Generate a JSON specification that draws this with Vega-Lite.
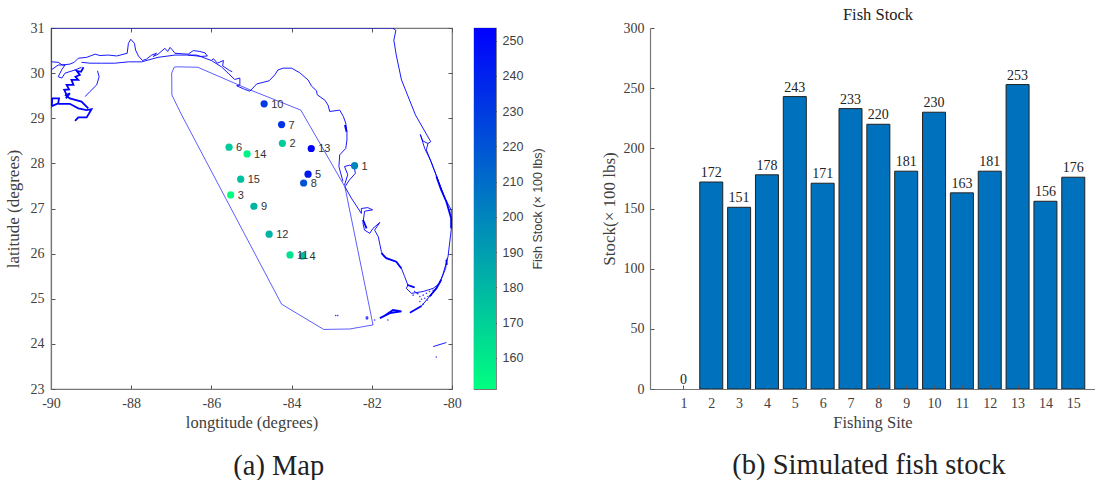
{
"$schema":"https://vega.github.io/schema/vega-lite/v6.json",
"background":"white",
"padding":{"left":3,"top":6,"right":0,"bottom":0},
"config":{"font":"Liberation Serif","axis":{"grid":false,"domainColor":"#777","domainWidth":1.2,"tickColor":"#555","tickWidth":1,"labelColor":"#404040","titleColor":"#404040","labelFont":"Liberation Serif","titleFont":"Liberation Serif","labelFontSize":14,"titleFontSize":16.5,"titleFontWeight":"normal"}},
"datasets":{
"sites":[
{"site":1,"lon":-82.43,"lat":27.95,"stock":0,"mapStock":200},
{"site":2,"lon":-84.23,"lat":28.445,"stock":172,"mapStock":172},
{"site":3,"lon":-85.52,"lat":27.30,"stock":151,"mapStock":151},
{"site":4,"lon":-83.73,"lat":25.95,"stock":178,"mapStock":178},
{"site":5,"lon":-83.59,"lat":27.76,"stock":243,"mapStock":243},
{"site":6,"lon":-85.56,"lat":28.36,"stock":171,"mapStock":171},
{"site":7,"lon":-84.25,"lat":28.86,"stock":233,"mapStock":233},
{"site":8,"lon":-83.70,"lat":27.565,"stock":220,"mapStock":220},
{"site":9,"lon":-84.94,"lat":27.05,"stock":181,"mapStock":181},
{"site":10,"lon":-84.685,"lat":29.32,"stock":230,"mapStock":230},
{"site":11,"lon":-84.04,"lat":25.97,"stock":163,"mapStock":163},
{"site":12,"lon":-84.56,"lat":26.43,"stock":181,"mapStock":181},
{"site":13,"lon":-83.51,"lat":28.33,"stock":253,"mapStock":253},
{"site":14,"lon":-85.11,"lat":28.21,"stock":156,"mapStock":156},
{"site":15,"lon":-85.27,"lat":27.65,"stock":176,"mapStock":176}
],
"zone":[
{"lon":-84.25,"lat":24.88},{"lon":-83.20,"lat":24.32},{"lon":-82.55,"lat":24.33},{"lon":-81.97,"lat":24.42},{"lon":-82.67,"lat":27.48},{"lon":-83.77,"lat":29.18},{"lon":-85.04,"lat":29.63},{"lon":-86.34,"lat":30.13},{"lon":-86.87,"lat":30.14},{"lon":-86.93,"lat":30.13},{"lon":-86.99,"lat":30.0},{"lon":-86.985,"lat":29.515},{"lon":-86.74,"lat":29.07},{"lon":-84.25,"lat":24.88}
],
"coast":[
{"s":"edge","lon":-90,"lat":29.22},{"s":"edge","lon":-90,"lat":31},{"s":"edge","lon":-81.45,"lat":31},{"s":"edge","lon":-81.47,"lat":30.99},
{"s":"a","lon":-89.98,"lat":30.25},{"s":"a","lon":-89.82,"lat":30.24},{"s":"a","lon":-89.72,"lat":30.18},{"s":"a","lon":-89.53,"lat":30.20},{"s":"a","lon":-89.42,"lat":30.24},{"s":"a","lon":-89.32,"lat":30.33},{"s":"a","lon":-89.11,"lat":30.35},{"s":"a","lon":-88.90,"lat":30.42},{"s":"a","lon":-88.78,"lat":30.39},{"s":"a","lon":-88.57,"lat":30.40},{"s":"a","lon":-88.36,"lat":30.38},{"s":"a","lon":-88.10,"lat":30.44},{"s":"a","lon":-88.07,"lat":30.66},{"s":"a","lon":-88.01,"lat":30.75},{"s":"a","lon":-87.92,"lat":30.66},{"s":"a","lon":-87.89,"lat":30.51},{"s":"a","lon":-87.82,"lat":30.38},{"s":"a","lon":-87.72,"lat":30.28},{"s":"a","lon":-87.62,"lat":30.31},{"s":"a","lon":-87.49,"lat":30.40},{"s":"a","lon":-87.37,"lat":30.44},{"s":"a","lon":-87.45,"lat":30.37},{"s":"a","lon":-87.33,"lat":30.42},{"s":"a","lon":-87.16,"lat":30.55},{"s":"a","lon":-87.09,"lat":30.48},{"s":"a","lon":-87.03,"lat":30.57},{"s":"a","lon":-86.97,"lat":30.51},{"s":"a","lon":-86.91,"lat":30.44},{"s":"a","lon":-86.58,"lat":30.42},{"s":"a","lon":-86.45,"lat":30.50},{"s":"a","lon":-86.29,"lat":30.48},{"s":"a","lon":-86.16,"lat":30.45},{"s":"a","lon":-86.10,"lat":30.38},{"s":"a","lon":-86.25,"lat":30.37},{"s":"a","lon":-86.58,"lat":30.40},
{"s":"a2","lon":-86.0,"lat":30.28},{"s":"a2","lon":-85.95,"lat":30.32},{"s":"a2","lon":-85.85,"lat":30.22},{"s":"a2","lon":-85.7,"lat":30.28},{"s":"a2","lon":-85.72,"lat":30.16},{"s":"a2","lon":-85.55,"lat":30.06},{"s":"a2","lon":-85.48,"lat":30.03},
{"s":"b","lon":-89.24,"lat":30.24},{"s":"b","lon":-89.03,"lat":30.22},{"s":"b","lon":-88.74,"lat":30.22},{"s":"b","lon":-88.41,"lat":30.22},{"s":"b","lon":-88.07,"lat":30.25},{"s":"b","lon":-87.74,"lat":30.25},{"s":"b","lon":-87.33,"lat":30.35},{"s":"b","lon":-86.91,"lat":30.40},{"s":"b","lon":-86.37,"lat":30.40},{"s":"b","lon":-86.0,"lat":30.28},{"s":"b","lon":-85.75,"lat":30.14},{"s":"b","lon":-85.42,"lat":29.86},{"s":"b","lon":-85.29,"lat":29.89},{"s":"b","lon":-85.29,"lat":29.74},{"s":"b","lon":-85.37,"lat":29.72},{"s":"b","lon":-85.17,"lat":29.64},{"s":"b","lon":-85.04,"lat":29.60},{"s":"b","lon":-84.87,"lat":29.76},{"s":"b","lon":-84.56,"lat":29.83},{"s":"b","lon":-84.42,"lat":29.96},{"s":"b","lon":-84.34,"lat":30.07},{"s":"b","lon":-84.21,"lat":30.11},{"s":"b","lon":-84.0,"lat":30.11},{"s":"b","lon":-83.8,"lat":30.01},{"s":"b","lon":-83.59,"lat":29.85},{"s":"b","lon":-83.5,"lat":29.71},{"s":"b","lon":-83.38,"lat":29.61},{"s":"b","lon":-83.36,"lat":29.52},{"s":"b","lon":-83.17,"lat":29.40},{"s":"b","lon":-83.09,"lat":29.29},{"s":"b","lon":-83.05,"lat":29.15},{"s":"b","lon":-82.8,"lat":29.18},{"s":"b","lon":-82.71,"lat":29.04},{"s":"b","lon":-82.65,"lat":28.89},{"s":"b","lon":-82.62,"lat":28.70},{"s":"b","lon":-82.62,"lat":28.52},{"s":"b","lon":-82.65,"lat":28.33},{"s":"b","lon":-82.8,"lat":28.19},{"s":"b","lon":-82.82,"lat":27.93},{"s":"b","lon":-82.72,"lat":27.6},
{"s":"t","lon":-82.68,"lat":27.52},{"s":"t","lon":-82.6,"lat":27.75},{"s":"t","lon":-82.68,"lat":27.93},{"s":"t","lon":-82.56,"lat":27.96},{"s":"t","lon":-82.44,"lat":27.93},{"s":"t","lon":-82.41,"lat":27.78},{"s":"t","lon":-82.56,"lat":27.63},{"s":"t","lon":-82.67,"lat":27.48},
{"s":"c","lon":-82.67,"lat":27.48},{"s":"c","lon":-82.51,"lat":27.23},{"s":"c","lon":-82.26,"lat":26.89},{"s":"c","lon":-82.26,"lat":27.0},{"s":"c","lon":-82.1,"lat":27.02},{"s":"c","lon":-81.98,"lat":26.97},{"s":"c","lon":-82.18,"lat":26.94},{"s":"c","lon":-82.22,"lat":26.67},{"s":"c","lon":-82.18,"lat":26.52},{"s":"c","lon":-82.05,"lat":26.45},{"s":"c","lon":-81.97,"lat":26.56},{"s":"c","lon":-81.8,"lat":26.69},{"s":"c","lon":-81.93,"lat":26.52},{"s":"c","lon":-81.84,"lat":26.38},{"s":"c","lon":-81.76,"lat":26.04},{"s":"c","lon":-81.68,"lat":25.92},{"s":"c","lon":-81.39,"lat":25.82},{"s":"c","lon":-81.26,"lat":25.67},{"s":"c","lon":-81.18,"lat":25.49},{"s":"c","lon":-81.1,"lat":25.3},{"s":"c","lon":-81.14,"lat":25.23},{"s":"c","lon":-81.01,"lat":25.12},{"s":"c","lon":-80.72,"lat":25.16},{"s":"c","lon":-80.47,"lat":25.23},{"s":"c","lon":-80.31,"lat":25.34},{"s":"c","lon":-80.16,"lat":25.67},{"s":"c","lon":-80.12,"lat":25.9},
{"s":"e","lon":-81.47,"lat":30.99},{"s":"e","lon":-81.4,"lat":30.95},{"s":"e","lon":-81.45,"lat":30.73},{"s":"e","lon":-81.39,"lat":30.40},{"s":"e","lon":-81.26,"lat":29.85},{"s":"e","lon":-80.91,"lat":29.07},{"s":"e","lon":-80.53,"lat":28.48},{"s":"e","lon":-80.6,"lat":28.44},{"s":"e","lon":-80.64,"lat":28.30},{"s":"e","lon":-80.43,"lat":27.82},{"s":"e","lon":-80.18,"lat":27.23},{"s":"e","lon":-80.02,"lat":26.97},{"s":"e","lon":-80.02,"lat":26.52},{"s":"e","lon":-80.1,"lat":25.93},{"s":"e","lon":-80.22,"lat":25.56},{"s":"e","lon":-80.31,"lat":25.34},{"s":"e","lon":-80.56,"lat":25.05},{"s":"e","lon":-80.76,"lat":24.84},
{"s":"r","lon":-80.79,"lat":28.64},{"s":"r","lon":-80.68,"lat":28.33},{"s":"r","lon":-80.52,"lat":28.04},{"s":"r","lon":-80.35,"lat":27.63},{"s":"r","lon":-80.14,"lat":27.15},
{"s":"r2","lon":-80.79,"lat":28.64},{"s":"r2","lon":-80.73,"lat":28.5},{"s":"r2","lon":-80.6,"lat":28.44},
{"s":"lake","lon":-89.98,"lat":30.08},{"s":"lake","lon":-89.82,"lat":30.18},{"s":"lake","lon":-89.65,"lat":30.18},{"s":"lake","lon":-89.73,"lat":30.08},{"s":"lake","lon":-89.82,"lat":29.92},{"s":"lake","lon":-89.73,"lat":29.89},{"s":"lake","lon":-89.65,"lat":30.0},{"s":"lake","lon":-89.4,"lat":30.07},{"s":"lake","lon":-89.24,"lat":30.13},
{"s":"ch","lon":-88.84,"lat":30.05},{"s":"ch","lon":-88.8,"lat":29.92},{"s":"ch","lon":-88.86,"lat":29.74},{"s":"ch","lon":-89.03,"lat":29.59},{"s":"ch","lon":-89.15,"lat":29.48},
{"s":"k","lon":-80.47,"lat":23.94},{"s":"k","lon":-80.14,"lat":24.03},
{"s":"isl","lon":-82.14,"lat":24.55},{"s":"isl","lon":-82.1,"lat":24.55},{"s":"isl","lon":-82.1,"lat":24.6},{"s":"isl","lon":-82.14,"lat":24.6},{"s":"isl","lon":-82.14,"lat":24.55}
],
"marsh":[
{"s":"m1","lon":-89.19,"lat":30.13},{"s":"m1","lon":-89.25,"lat":30.03},{"s":"m1","lon":-89.36,"lat":30.05},{"s":"m1","lon":-89.28,"lat":29.96},{"s":"m1","lon":-89.39,"lat":29.92},{"s":"m1","lon":-89.32,"lat":29.85},{"s":"m1","lon":-89.49,"lat":29.85},{"s":"m1","lon":-89.44,"lat":29.74},{"s":"m1","lon":-89.61,"lat":29.74},{"s":"m1","lon":-89.55,"lat":29.64},{"s":"m1","lon":-89.67,"lat":29.63},{"s":"m1","lon":-89.61,"lat":29.52},{"s":"m1","lon":-89.53,"lat":29.55},{"s":"m1","lon":-89.63,"lat":29.44},
{"s":"m2","lon":-89.98,"lat":29.27},{"s":"m2","lon":-89.97,"lat":29.44},{"s":"m2","lon":-89.8,"lat":29.44},{"s":"m2","lon":-89.82,"lat":29.33},{"s":"m2","lon":-89.98,"lat":29.27},
{"s":"m3","lon":-89.82,"lat":29.32},{"s":"m3","lon":-89.53,"lat":29.32},{"s":"m3","lon":-89.32,"lat":29.22},{"s":"m3","lon":-89.11,"lat":29.18},{"s":"m3","lon":-88.99,"lat":29.2},{"s":"m3","lon":-89.11,"lat":29.02},{"s":"m3","lon":-89.32,"lat":29.02},{"s":"m3","lon":-89.4,"lat":28.94},
{"s":"m4","lon":-89.65,"lat":29.52},{"s":"m4","lon":-89.53,"lat":29.44},{"s":"m4","lon":-89.24,"lat":29.37},{"s":"m4","lon":-89.07,"lat":29.22},
{"s":"m5","lon":-81.76,"lat":26.01},{"s":"m5","lon":-81.64,"lat":25.9},{"s":"m5","lon":-81.39,"lat":25.82},{"s":"m5","lon":-81.26,"lat":25.67},
{"s":"m6","lon":-81.12,"lat":25.31},{"s":"m6","lon":-80.99,"lat":25.27},{"s":"m6","lon":-80.93,"lat":25.25},
{"s":"m7","lon":-81.8,"lat":24.57},{"s":"m7","lon":-81.55,"lat":24.68},{"s":"m7","lon":-81.26,"lat":24.72},{"s":"m7","lon":-81.47,"lat":24.75},{"s":"m7","lon":-81.72,"lat":24.6},
{"s":"m8","lon":-81.05,"lat":24.69},{"s":"m8","lon":-80.76,"lat":24.84},
{"s":"m9","lon":-80.39,"lat":27.71},{"s":"m9","lon":-80.27,"lat":27.41},{"s":"m9","lon":-80.14,"lat":27.15},{"s":"m9","lon":-80.02,"lat":26.78},{"s":"m9","lon":-80.02,"lat":26.56},
{"s":"m10","lon":-82.22,"lat":26.75},{"s":"m10","lon":-82.13,"lat":26.56},
{"s":"m11","lon":-82.67,"lat":28.85},{"s":"m11","lon":-82.63,"lat":28.70},
{"s":"m12","lon":-80.56,"lat":25.05},{"s":"m12","lon":-80.39,"lat":25.23},{"s":"m12","lon":-80.27,"lat":25.42},
{"s":"m13","lon":-80.14,"lat":25.86},{"s":"m13","lon":-80.13,"lat":25.75}
],
"dots":[
{"lon":-80.97,"lat":25.08},{"lon":-80.87,"lat":25.12},{"lon":-80.80,"lat":25.05},{"lon":-80.72,"lat":25.08},{"lon":-80.64,"lat":25.12},{"lon":-80.56,"lat":25.16},{"lon":-80.68,"lat":25.01},{"lon":-80.60,"lat":25.05},{"lon":-80.515,"lat":25.08},{"lon":-80.80,"lat":24.94},{"lon":-80.72,"lat":24.88},{"lon":-80.93,"lat":25.16},{"lon":-80.47,"lat":25.19},{"lon":-80.76,"lat":24.99},{"lon":-80.85,"lat":25.11},{"lon":-80.62,"lat":24.97},{"lon":-81.93,"lat":24.53},{"lon":-81.6,"lat":24.53},{"lon":-82.9,"lat":24.63},{"lon":-82.85,"lat":24.63},{"lon":-80.39,"lat":23.71}
]
},
"spacing":55,
"hconcat":[
{"spacing":11,"hconcat":[
{"width":401,"height":361,"view":{"stroke":"#777","strokeWidth":1.2},
 "resolve":{"axis":{"x":"independent","y":"independent"}},
 "layer":[
 {"data":{"name":"zone"},"transform":[{"window":[{"op":"row_number","as":"i"}]}],
  "mark":{"type":"line","color":"#0000ff","strokeWidth":0.8,"opacity":0.8,"clip":true},
  "encoding":{"x":{"field":"lon","type":"quantitative","scale":{"domain":[-90,-80],"nice":false,"zero":false},"axis":{"orient":"bottom","values":[-90,-88,-86,-84,-82,-80],"labelExpr":"''+datum.value","title":"longtitude (degrees)","tickSize":-4,"labelPadding":11.5,"titlePadding":4,"labelFlush":false,"labelOverlap":false}},
   "y":{"field":"lat","type":"quantitative","scale":{"domain":[23,31],"nice":false,"zero":false},"axis":{"orient":"left","values":[23,24,25,26,27,28,29,30,31],"title":"latitude (degrees)","titleFontSize":17,"tickSize":-4,"labelPadding":11,"titlePadding":8,"labelOverlap":false}},
   "order":{"field":"i"}}},
 {"data":{"name":"coast"},"transform":[{"window":[{"op":"row_number","as":"i"}]}],
  "mark":{"type":"line","color":"#0000ff","strokeWidth":0.9,"clip":true},
  "encoding":{"x":{"field":"lon","type":"quantitative","scale":{"domain":[-90,-80],"nice":false,"zero":false},"axis":{"orient":"top","values":[-90,-88,-86,-84,-82,-80],"labels":false,"title":null,"domain":false,"tickSize":-4}},
   "y":{"field":"lat","type":"quantitative","scale":{"domain":[23,31],"nice":false,"zero":false},"axis":{"orient":"right","values":[23,24,25,26,27,28,29,30,31],"labels":false,"title":null,"domain":false,"tickSize":-4}},
   "detail":{"field":"s"},"order":{"field":"i"}}},
 {"data":{"name":"marsh"},"transform":[{"window":[{"op":"row_number","as":"i"}]}],
  "mark":{"type":"line","color":"#0000ff","strokeWidth":1.8,"clip":true},
  "encoding":{"x":{"field":"lon","type":"quantitative","axis":null},"y":{"field":"lat","type":"quantitative","axis":null},"detail":{"field":"s"},"order":{"field":"i"}}},
 {"data":{"name":"dots"},"mark":{"type":"circle","color":"#0000ff","size":2.5,"opacity":0.8},
  "encoding":{"x":{"field":"lon","type":"quantitative","axis":null},"y":{"field":"lat","type":"quantitative","axis":null}}},
 {"data":{"name":"sites"},"mark":{"type":"circle","size":52,"opacity":1},
  "encoding":{"x":{"field":"lon","type":"quantitative","axis":null},"y":{"field":"lat","type":"quantitative","axis":null},
   "color":{"field":"mapStock","type":"quantitative","legend":null,"scale":{"domain":[151,253],"range":["#00ff80","#0000ff"],"interpolate":"rgb"}}}},
 {"data":{"name":"sites"},"mark":{"type":"text","align":"left","baseline":"middle","dx":7,"dy":1,"font":"Liberation Sans","fontSize":11,"color":"#333"},
  "encoding":{"x":{"field":"lon","type":"quantitative","axis":null},"y":{"field":"lat","type":"quantitative","axis":null},"text":{"field":"site","type":"nominal"}}},
 {"data":{"values":[{}]},"mark":{"type":"text","font":"Liberation Serif","fontSize":28.5,"color":"#222","baseline":"middle"},
  "encoding":{"x":{"datum":-84.32,"type":"quantitative","axis":null},"y":{"datum":21.29,"type":"quantitative","axis":null},"text":{"value":"(a) Map"}}}
 ]},
{"width":22,"height":361,"view":{"stroke":"#777","strokeWidth":1.2},
 "data":{"values":[{"low":151.2,"high":253.6}]},
 "mark":{"type":"rect","fill":{"gradient":"linear","x1":0,"y1":1,"x2":0,"y2":0,"stops":[{"offset":0,"color":"#00ff80"},{"offset":1,"color":"#0000ff"}]}},
 "encoding":{"y":{"field":"low","type":"quantitative","scale":{"domain":[151.2,253.6],"nice":false,"zero":false},
   "axis":{"orient":"right","values":[160,170,180,190,200,210,220,230,240,250],"title":"Fish Stock (× 100 lbs)","titleAngle":270,"titleFont":"Liberation Sans","labelFont":"Liberation Sans","titleFontSize":12.5,"labelFontSize":12.5,"tickSize":-4,"labelPadding":10,"titlePadding":22,"domain":false,"tickColor":"#333","labelOverlap":false}},
  "y2":{"field":"high"}}}
]},
{"width":445,"height":361,"view":{"stroke":null},
 "title":{"text":"Fish Stock","font":"Liberation Serif","fontSize":16.5,"fontWeight":"normal","color":"#222","dx":5.5,"offset":-2},
 "layer":[
 {"data":{"name":"sites"},"transform":[{"filter":"datum.stock > 0"}],"mark":{"type":"bar","size":23,"fill":"#0072BD","stroke":"#222","strokeWidth":1,"clip":false},
  "encoding":{"x":{"field":"site","type":"quantitative","scale":{"domain":[-0.2,15.78],"nice":false,"zero":false,"padding":0},"axis":{"values":[1,2,3,4,5,6,7,8,9,10,11,12,13,14,15],"title":"Fishing Site","tickSize":-4,"labelPadding":11.5,"titlePadding":4,"zindex":1,"labelOverlap":false}},
   "y":{"field":"stock","type":"quantitative","scale":{"domain":[0,300],"nice":false},"axis":{"values":[0,50,100,150,200,250,300],"title":"Stock(× 100 lbs)","titleFontSize":17,"tickSize":-4,"labelPadding":10,"titlePadding":5,"zindex":1,"labelOverlap":false}}}},
 {"data":{"name":"sites"},"mark":{"type":"text","baseline":"bottom","dy":-2,"font":"Liberation Serif","fontSize":14,"color":"#222"},
  "encoding":{"x":{"field":"site","type":"quantitative","scale":{"domain":[-0.2,15.78],"nice":false,"zero":false,"padding":0},"axis":{"values":[1,2,3,4,5,6,7,8,9,10,11,12,13,14,15],"title":"Fishing Site","tickSize":-4,"labelPadding":11.5,"titlePadding":4,"zindex":1,"labelOverlap":false}},
   "y":{"field":"stock","type":"quantitative","scale":{"domain":[0,300],"nice":false},"axis":{"values":[0,50,100,150,200,250,300],"title":"Stock(× 100 lbs)","titleFontSize":17,"tickSize":-4,"labelPadding":10,"titlePadding":5,"zindex":1,"labelOverlap":false}},"text":{"field":"stock","type":"quantitative"}}},
 {"data":{"values":[{}]},"mark":{"type":"text","font":"Liberation Serif","fontSize":28.5,"color":"#222","baseline":"middle"},
  "encoding":{"x":{"datum":7.66,"type":"quantitative","scale":{"domain":[-0.2,15.78],"nice":false,"zero":false,"padding":0},"axis":{"values":[1,2,3,4,5,6,7,8,9,10,11,12,13,14,15],"title":"Fishing Site","tickSize":-4,"labelPadding":11.5,"titlePadding":4,"zindex":1,"labelOverlap":false}},
   "y":{"datum":-63,"type":"quantitative","scale":{"domain":[0,300],"nice":false},"axis":{"values":[0,50,100,150,200,250,300],"title":"Stock(× 100 lbs)","titleFontSize":17,"tickSize":-4,"labelPadding":10,"titlePadding":5,"zindex":1,"labelOverlap":false}},"text":{"value":"(b) Simulated fish stock"}}}
 ]}
]
}
